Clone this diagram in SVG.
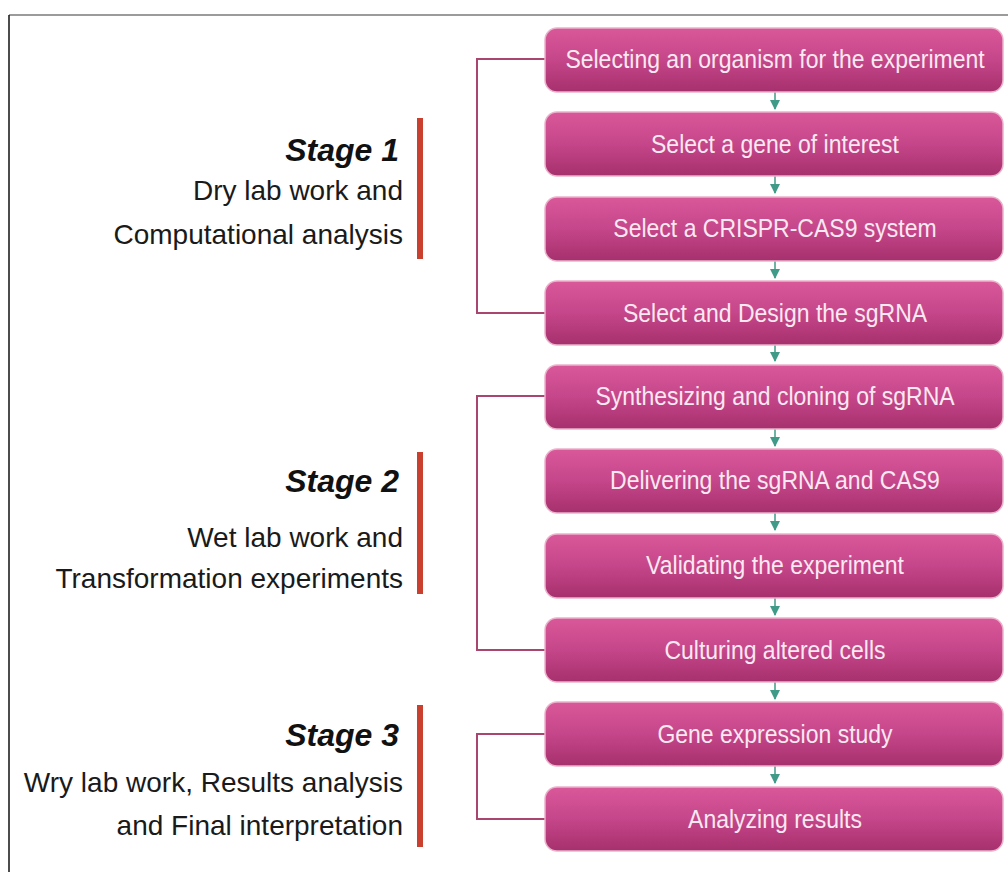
<svg xmlns="http://www.w3.org/2000/svg" width="1008" height="872" viewBox="0 0 1008 872">
  <defs>
    <linearGradient id="boxFill" x1="0" y1="0" x2="0" y2="1">
      <stop offset="0" stop-color="#d9589a"/>
      <stop offset="0.5" stop-color="#c5468a"/>
      <stop offset="1" stop-color="#a6306d"/>
    </linearGradient>
    <marker id="head" viewBox="0 0 10 10" refX="9" refY="5" markerWidth="11" markerHeight="10" markerUnits="userSpaceOnUse" orient="auto">
      <path d="M0,0 L10,5 L0,10 Z" fill="#3f9a87"/>
    </marker>
  </defs>
  <style>
    .box { fill: url(#boxFill); stroke: #eab2cb; stroke-width: 1.5; }
    .label { font-family: "Liberation Sans", Arial, sans-serif; font-size: 25px; fill: #fbe8f1; text-anchor: middle; }
    .title { font-family: "Liberation Sans", Arial, sans-serif; font-size: 32px; font-weight: bold; font-style: italic; fill: #111; text-anchor: end; }
    .desc { font-family: "Liberation Sans", Arial, sans-serif; font-size: 28px; fill: #1a1a1a; text-anchor: end; }
    .bar { fill: #c9402f; }
    .bracket { fill: none; stroke: #a8466f; stroke-width: 2; }
    .flow { stroke: #3f9a87; stroke-width: 1.5; marker-end: url(#head); }
  </style>

  <rect x="0" y="0" width="1008" height="872" fill="#ffffff"/>
  <!-- frame -->
  <line x1="9" y1="15" x2="1008" y2="15" stroke="#7a7a7a" stroke-width="1.5"/>
  <line x1="9" y1="15" x2="9" y2="872" stroke="#111" stroke-width="1.5"/>

  <!-- stage headings -->
  <g id="stage1">
    <rect class="bar" x="417" y="118" width="6" height="141"/>
    <text class="title" x="399" y="161">Stage 1</text>
    <text class="desc" x="403" y="200">Dry lab work and</text>
    <text class="desc" x="403" y="244">Computational analysis</text>
  </g>
  <g id="stage2">
    <rect class="bar" x="417" y="452" width="6" height="142"/>
    <text class="title" x="399" y="492">Stage 2</text>
    <text class="desc" x="403" y="547">Wet lab work and</text>
    <text class="desc" x="403" y="588">Transformation experiments</text>
  </g>
  <g id="stage3">
    <rect class="bar" x="417" y="705" width="6" height="142"/>
    <text class="title" x="399" y="746">Stage 3</text>
    <text class="desc" x="403" y="792">Wry lab work, Results analysis</text>
    <text class="desc" x="403" y="835">and Final interpretation</text>
  </g>

  <!-- connectors -->
  <g id="connectors">
    <polyline class="bracket" points="545,59 477,59 477,313 545,313"/>
    <polyline class="bracket" points="545,396 477,396 477,650 545,650"/>
    <polyline class="bracket" points="545,734 477,734 477,819 545,819"/>
    <line class="flow" x1="775" y1="92" x2="775" y2="109"/>
    <line class="flow" x1="775" y1="176" x2="775" y2="193"/>
    <line class="flow" x1="775" y1="261" x2="775" y2="278"/>
    <line class="flow" x1="775" y1="345" x2="775" y2="361"/>
    <line class="flow" x1="775" y1="429" x2="775" y2="446"/>
    <line class="flow" x1="775" y1="513" x2="775" y2="530"/>
    <line class="flow" x1="775" y1="598" x2="775" y2="615"/>
    <line class="flow" x1="775" y1="682" x2="775" y2="699"/>
    <line class="flow" x1="775" y1="766" x2="775" y2="783"/>
  </g>

  <!-- process steps (labels narrowed horizontally) -->
  <g id="step1"><rect class="box" x="545" y="28" width="458" height="64" rx="12"/><text class="label" transform="translate(775 68) scale(0.92 1)">Selecting an organism for the experiment</text></g>
  <g id="step2"><rect class="box" x="545" y="112" width="458" height="64" rx="12"/><text class="label" transform="translate(775 153) scale(0.92 1)">Select a gene of interest</text></g>
  <g id="step3"><rect class="box" x="545" y="197" width="458" height="64" rx="12"/><text class="label" transform="translate(775 237) scale(0.92 1)">Select a CRISPR-CAS9 system</text></g>
  <g id="step4"><rect class="box" x="545" y="281" width="458" height="64" rx="12"/><text class="label" transform="translate(775 322) scale(0.92 1)">Select and Design the sgRNA</text></g>
  <g id="step5"><rect class="box" x="545" y="365" width="458" height="64" rx="12"/><text class="label" transform="translate(775 405) scale(0.92 1)">Synthesizing and cloning of sgRNA</text></g>
  <g id="step6"><rect class="box" x="545" y="449" width="458" height="64" rx="12"/><text class="label" transform="translate(775 489) scale(0.92 1)">Delivering the sgRNA and CAS9</text></g>
  <g id="step7"><rect class="box" x="545" y="534" width="458" height="64" rx="12"/><text class="label" transform="translate(775 574) scale(0.92 1)">Validating the experiment</text></g>
  <g id="step8"><rect class="box" x="545" y="618" width="458" height="64" rx="12"/><text class="label" transform="translate(775 659) scale(0.92 1)">Culturing altered cells</text></g>
  <g id="step9"><rect class="box" x="545" y="702" width="458" height="64" rx="12"/><text class="label" transform="translate(775 743) scale(0.92 1)">Gene expression study</text></g>
  <g id="step10"><rect class="box" x="545" y="787" width="458" height="64" rx="12"/><text class="label" transform="translate(775 828) scale(0.92 1)">Analyzing results</text></g>
</svg>
